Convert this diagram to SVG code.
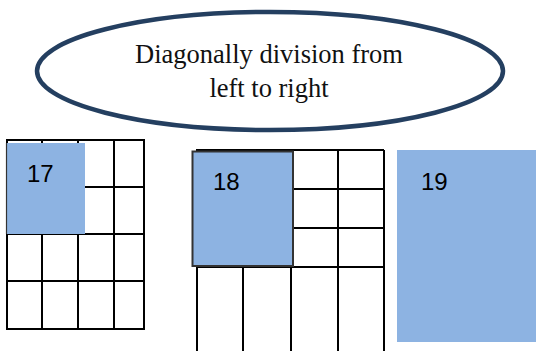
<svg xmlns="http://www.w3.org/2000/svg" width="536" height="351" viewBox="0 0 536 351">
  <style>
    .grid { stroke: #000; stroke-width: 2; fill: none; }
    .shade { fill: #8DB3E2; }
    .num { font-family: "Liberation Sans", Arial, sans-serif; font-size: 24px; fill: #000; }
    .title { font-family: "Liberation Serif", "Times New Roman", serif; font-size: 26.5px; fill: #111; text-anchor: middle; }
  </style>
  <rect width="536" height="351" fill="#fff"/>

  <!-- heading ellipse -->
  <g id="heading">
    <ellipse cx="270" cy="71" rx="233" ry="59" fill="#fff" stroke="#243F60" stroke-width="4.5"/>
    <text class="title" x="269" y="63">Diagonally division from</text>
    <text class="title" x="269" y="97">left to right</text>
  </g>

  <!-- panel 17: 4x4 grid with top-left block shaded -->
  <g id="panel-17">
    <g class="grid">
      <rect x="7" y="140" width="137" height="189"/>
      <line x1="42" y1="140" x2="42" y2="329"/>
      <line x1="78" y1="140" x2="78" y2="329"/>
      <line x1="114" y1="140" x2="114" y2="329"/>
      <line x1="7" y1="187" x2="144" y2="187"/>
      <line x1="7" y1="234" x2="144" y2="234"/>
      <line x1="7" y1="281" x2="144" y2="281"/>
    </g>
    <rect class="shade" x="6" y="143" width="79" height="91"/>
    <line x1="6.5" y1="143" x2="6.5" y2="234" stroke="#333" stroke-width="1.2"/>
    <text class="num" x="27" y="182">17</text>
  </g>

  <!-- panel 18: grid with a larger shaded block -->
  <g id="panel-18">
    <g class="grid">
      <line x1="196" y1="150" x2="384" y2="150"/>
      <line x1="384" y1="150" x2="384" y2="351"/>
      <line x1="338" y1="150" x2="338" y2="351"/>
      <line x1="293" y1="150" x2="293" y2="267"/>
      <line x1="291" y1="267" x2="291" y2="351"/>
      <line x1="243" y1="267" x2="243" y2="351"/>
      <line x1="197" y1="267" x2="197" y2="351"/>
      <line x1="293" y1="189" x2="384" y2="189"/>
      <line x1="293" y1="228" x2="384" y2="228"/>
      <line x1="196" y1="267" x2="384" y2="267"/>
    </g>
    <rect class="shade" x="192.5" y="151.5" width="100.5" height="114.5" stroke="#333" stroke-width="2"/>
    <text class="num" x="213" y="190">18</text>
  </g>

  <!-- panel 19: fully shaded -->
  <g id="panel-19">
    <rect class="shade" x="397" y="150" width="139" height="192"/>
    <text class="num" x="421" y="190">19</text>
  </g>
</svg>
